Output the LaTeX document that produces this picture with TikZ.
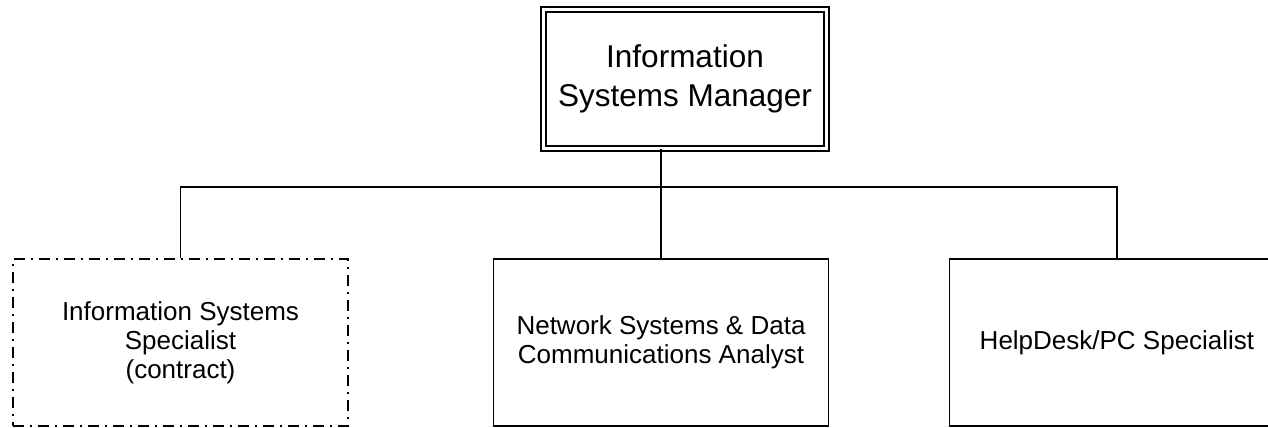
\documentclass[tikz,border=0pt]{standalone}
\usepackage{fontspec}
\setmainfont{Liberation Sans}
\begin{document}
\begin{tikzpicture}[x=1pt,y=-1pt,
  orgbox/.style={draw=black, line width=1.8pt, inner sep=0pt, align=center,
    minimum width=335pt, minimum height=167pt,
    font=\fontsize{26}{29}\selectfont},
  contractbox/.style={orgbox, dash pattern=on 11pt off 6pt on 2pt off 6pt},
  mgrbox/.style={draw=black, double=white, double distance=2.9pt, line width=1.6pt,
    inner sep=0pt, align=center, minimum width=283pt, minimum height=139pt,
    font=\fontsize{31.5}{39}\selectfont},
  link/.style={draw=black, line width=1.8pt}]
\clip (0,0) rectangle (1268,428);
\node[mgrbox] (mgr) at (685,79) {Information\\Systems Manager};
\node[contractbox] (iss) at (180.5,342.5) {Information Systems\\Specialist\\(contract)};
\node[orgbox] (nsa) at (661,342.5) {Network Systems \& Data\\Communications Analyst};
\node[orgbox] (hd) at (1117,342.5) {HelpDesk/PC Specialist};
\coordinate (bus) at (661,187);
\draw[link] (nsa.north |- mgr.south) -- (nsa.north);
\draw[link] (iss.north) -- (iss.north |- bus) -- (hd.north |- bus) -- (hd.north);
\end{tikzpicture}
\end{document}
